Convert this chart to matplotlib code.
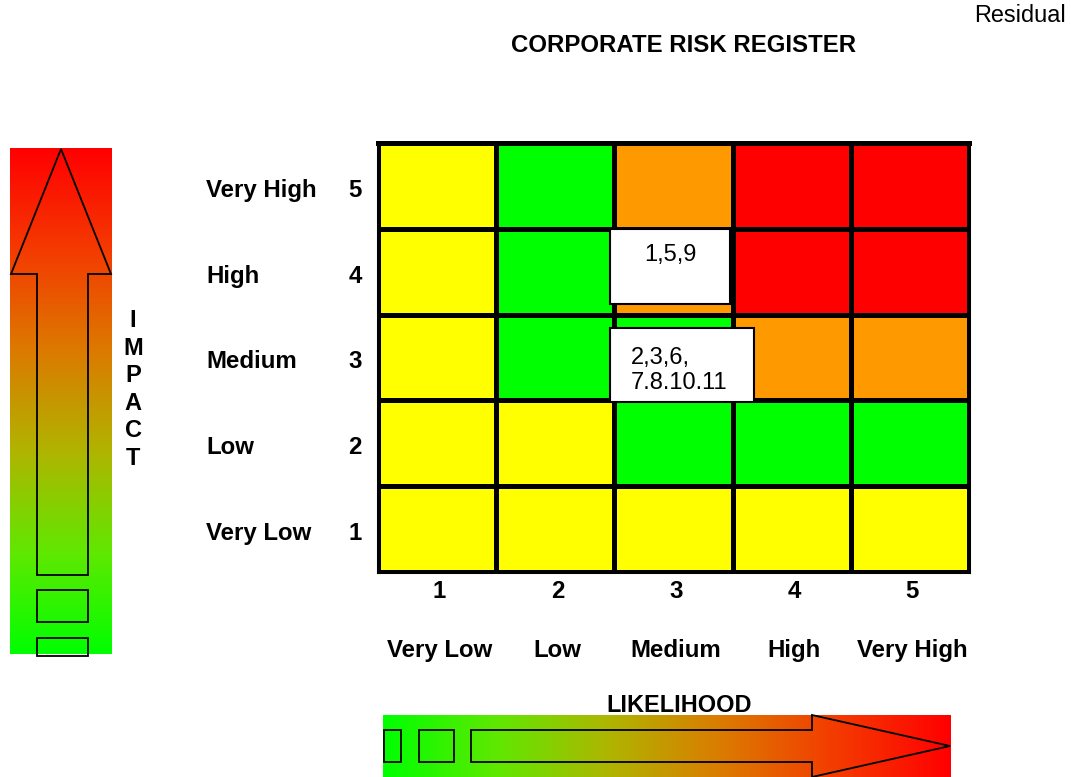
import numpy as np
import matplotlib
matplotlib.use("Agg")
import matplotlib.pyplot as plt
from matplotlib import transforms
from matplotlib.colors import ListedColormap, LinearSegmentedColormap
from matplotlib.patches import Polygon, Rectangle

plt.rcParams['font.family'] = ['Liberation Sans', 'DejaVu Sans']

# ---- data ----
impact_labels = ["Very Low", "Low", "Medium", "High", "Very High"]
likelihood_labels = ["Very Low", "Low", "Medium", "High", "Very High"]
scores = [1, 2, 3, 4, 5]

# colour level per cell, rows = impact 1..5, cols = likelihood 1..5
# 0 yellow, 1 green, 2 orange, 3 red
risk_levels = [
    [0, 0, 0, 0, 0],
    [0, 0, 1, 1, 1],
    [0, 1, 1, 2, 2],
    [0, 1, 2, 3, 3],
    [0, 1, 2, 3, 3],
]
level_colors = ["#FFFF00", "#00FF00", "#FF9900", "#FF0000"]

# risk ids placed on (likelihood, impact)
risk_ids = ["1,5,9", "2,3,6,\n7.8.10.11"]
risk_pos = [(3, 4), (3, 3)]

W, H = 1071, 777
fig = plt.figure(figsize=(W / 100, H / 100), dpi=100)


def px_axes(x0, y0, x1, y1):
    return fig.add_axes([x0 / W, 1 - y1 / H, (x1 - x0) / W, (y1 - y0) / H])


def px_text(x, y, s, **kw):
    # y is the text baseline in pixels from the top
    return fig.text(x / W, 1 - y / H, s, va="baseline", **kw)


# ---- main matrix ----
ax = px_axes(378, 143, 969, 572)
edges = np.arange(0.5, 6.0, 1.0)
ax.pcolormesh(edges, edges, np.array(risk_levels), cmap=ListedColormap(level_colors),
              vmin=-0.5, vmax=3.5, edgecolors="black", linewidth=2.2)
ax.set_xlim(0.5, 5.5)
ax.set_ylim(0.5, 5.5)
ax.set_xticks([])
ax.set_yticks([])
for side, sp in ax.spines.items():
    sp.set_linewidth(2.2)
ax.spines["top"].set_linewidth(3.6)

# risk id boxes
box_sizes = [(1.02, 0.88), (1.22, 0.86)]
box_offsets = [(-0.54, -0.38), (-0.54, -0.52)]
for ids, (lx, iy), (bw, bh), (ox, oy) in zip(risk_ids, risk_pos, box_sizes, box_offsets):
    top = iy + 0.5
    ax.add_patch(Rectangle((lx + ox, iy + oy), bw, bh, facecolor="white",
                           edgecolor="black", linewidth=1.5, zorder=5, clip_on=False))
    if "\n" in ids:
        ax.text(lx - 0.36, iy + oy + bh / 2 - 0.06, ids, ha="left", va="center",
                fontsize=17, linespacing=1.15, zorder=6)
    else:
        ax.text(lx - 0.03, top - 0.31, ids, ha="center", va="center", fontsize=17, zorder=6)

# impact labels (baseline a bit below each row centre)
tr_y = transforms.blended_transform_factory(fig.transFigure, ax.transData)
row_h = 429 / 5
for s, lab in zip(scores, impact_labels):
    yb = s - 11 / row_h
    ax.text(206 / W, yb, lab, transform=tr_y, ha="left", va="baseline",
            fontsize=17.3, fontweight="bold")
    ax.text(355 / W, yb, str(s), transform=tr_y, ha="center", va="baseline",
            fontsize=17.3, fontweight="bold")

# likelihood labels
tr_x = transforms.blended_transform_factory(ax.transData, fig.transFigure)
for s, lab in zip(scores, likelihood_labels):
    ax.text(s + 0.02, 1 - 598 / H, str(s), transform=tr_x, ha="center", va="baseline",
            fontsize=17.3, fontweight="bold")
    ax.text(s + 0.02, 1 - 657 / H, lab, transform=tr_x, ha="center", va="baseline",
            fontsize=17.3, fontweight="bold")

px_text(679, 712, "LIKELIHOOD", ha="center", fontsize=16.9, fontweight="bold")
for i, ch in enumerate("IMPACT"):
    px_text(133, 327 + i * 27.6, ch, ha="center", fontsize=17, fontweight="bold")
px_text(684, 52, "CORPORATE RISK REGISTER", ha="center", fontsize=17.3, fontweight="bold")
px_text(1066, 22, "Residual", ha="right", fontsize=16.9)

# ---- gradient arrows ----
grad = LinearSegmentedColormap.from_list(
    "rg", ["#00FF00", "#60E800", "#B0B400", "#DC7A00", "#F43A00", "#FF0000"])
ramp = np.linspace(0, 1, 256)

# left: impact arrow (pixel coords)
axl = px_axes(10, 148, 112, 654)
axl.imshow(ramp[::-1, None], cmap=grad, aspect="auto", extent=(10, 112, 654, 148))
axl.set_xlim(10, 112)
axl.set_ylim(654, 148)
axl.axis("off")
axl.add_patch(Polygon([(61, 149), (111, 274), (88, 274), (88, 575), (37, 575),
                       (37, 274), (11, 274)], closed=True, fill=False,
                      edgecolor="black", linewidth=1.3, clip_on=False))
axl.add_patch(Rectangle((37, 590), 51, 32, fill=False, edgecolor="black", linewidth=1.3))
axl.add_patch(Rectangle((37, 638), 51, 18, fill=False, edgecolor="black", linewidth=1.3,
                        clip_on=False))

# bottom: likelihood arrow (pixel coords)
axb = px_axes(383, 715, 951, 777)
axb.imshow(ramp[None, :], cmap=grad, aspect="auto", extent=(383, 951, 777, 715))
axb.set_xlim(383, 951)
axb.set_ylim(777, 715)
axb.axis("off")
axb.add_patch(Polygon([(471, 730), (812, 730), (812, 715), (950, 746), (812, 777),
                       (812, 762), (471, 762)], closed=True, fill=False,
                      edgecolor="black", linewidth=1.3, clip_on=False))
axb.add_patch(Rectangle((384, 730), 17, 32, fill=False, edgecolor="black", linewidth=1.3))
axb.add_patch(Rectangle((419, 730), 35, 32, fill=False, edgecolor="black", linewidth=1.3))

fig.savefig("out.png", dpi=100)
